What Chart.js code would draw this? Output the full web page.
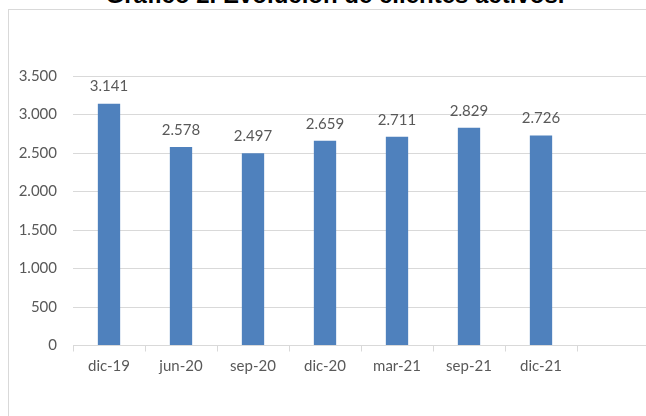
<!DOCTYPE html>
<html>
<head>
<meta charset="utf-8">
<script src="https://cdn.jsdelivr.net/npm/chart.js@4"></script>
<style>
  html, body { margin: 0; padding: 0; background: #fff; overflow: hidden; }
  #wrap { position: relative; width: 646px; height: 416px; overflow: hidden; }
  #frame { position: absolute; left: 8px; top: 9px; width: 700px; height: 500px; border: 1px solid #d9d9d9; box-sizing: border-box; }
  #title { position: absolute; left: 0; width: 670px; top: -17px; text-align: center; font: bold 24px "Liberation Sans", Arial, sans-serif; line-height: 24px; color: #000; white-space: nowrap; }
  canvas { position: absolute; left: 0; top: 0; }
</style>
</head>
<body>
<div id="wrap">
  <div id="frame"></div>
  <div id="title">Gráfico 2. Evolución de clientes activos.</div>
  <canvas id="c" width="660" height="416"></canvas>
</div>
<script>
const categories = ["dic-19", "jun-20", "sep-20", "dic-20", "mar-21", "sep-21", "dic-21", ""];
const clientes = [3141, 2578, 2497, 2659, 2711, 2829, 2726, null];
const yTicks = [0, 500, 1000, 1500, 2000, 2500, 3000, 3500];

const fmt = v => String(v).replace(/\B(?=(\d{3})+(?!\d))/g, ".");
const FONT = 'Lato, "Open Sans", sans-serif';
const GRAY = '#595959';

const labelPlugin = {
  id: 'valueLabels',
  afterDatasetsDraw(chart) {
    const ctx = chart.ctx;
    const meta = chart.getDatasetMeta(0);
    ctx.save();
    ctx.font = '15px ' + FONT;
    ctx.fillStyle = GRAY;
    ctx.textAlign = 'center';
    ctx.textBaseline = 'middle';
    meta.data.forEach((bar, i) => {
      const v = chart.data.datasets[0].data[i];
      if (v == null) return;
      ctx.fillText(fmt(v), bar.x, bar.y - 17);
    });
    ctx.restore();
  }
};

new Chart(document.getElementById('c'), {
  type: 'bar',
  data: {
    labels: categories,
    datasets: [{
      data: clientes,
      backgroundColor: '#4f81bd',
      borderWidth: 0,
      categoryPercentage: 1,
      barPercentage: 0.31
    }]
  },
  options: {
    responsive: false,
    animation: false,
    layout: { padding: { top: 76, right: 11, left: 0, bottom: 0 } },
    plugins: { legend: { display: false }, tooltip: { enabled: false } },
    scales: {
      x: {
        grid: { display: true, drawOnChartArea: false, drawTicks: true, tickLength: 6, color: '#d9d9d9', offset: true },
        border: { display: true, color: '#d9d9d9' },
        ticks: { color: GRAY, font: { family: FONT, size: 15 }, padding: 6, maxRotation: 0, autoSkip: false },
        afterFit(s) { s.height = 70.5; }
      },
      y: {
        min: 0, max: 3500,
        afterBuildTicks(s) { s.ticks = yTicks.map(v => ({ value: v })); },
        grid: { color: '#d9d9d9', drawTicks: false },
        border: { display: false },
        ticks: { color: GRAY, font: { family: FONT, size: 15 }, padding: 16, callback: v => fmt(v) },
        afterFit(s) { s.width = 73; }
      }
    }
  },
  plugins: [labelPlugin]
});
</script>
</body>
</html>
